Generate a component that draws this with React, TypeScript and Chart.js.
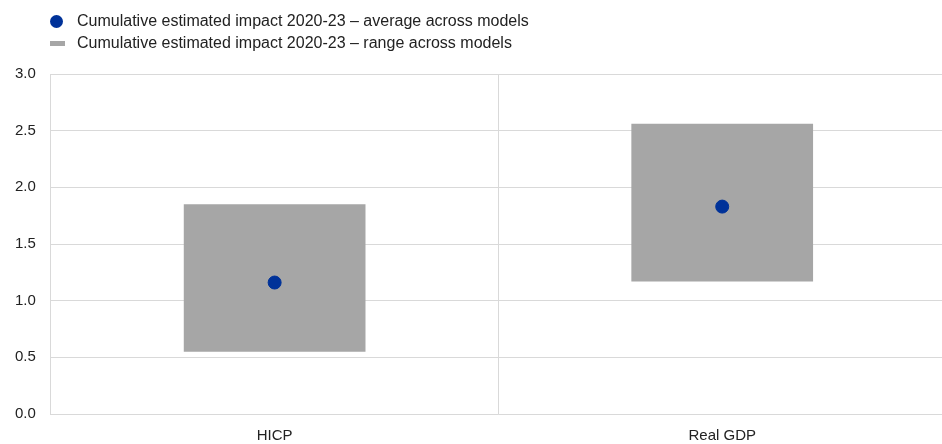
import React, { useEffect, useRef } from "react";
import { Chart, registerables } from "chart.js";

Chart.register(...registerables);

const categories = ["HICP", "Real GDP"];
const rangeLow = [0.55, 1.17];
const rangeHigh = [1.85, 2.56];
const averages = [1.16, 1.83];
const avgLabel = "Cumulative estimated impact 2020-23 \u2013 average across models";
const rangeLabel = "Cumulative estimated impact 2020-23 \u2013 range across models";

const BLUE = "#003299";
const GREY = "#a6a6a6";
const FONT = "'Liberation Sans', Arial, sans-serif";

export default function App() {
  const ref = useRef<HTMLCanvasElement>(null);
  useEffect(() => {
    if (!ref.current) return;
    const chart = new Chart(ref.current, {
      type: "bar",
      data: {
        labels: categories,
        datasets: [
          {
            type: "line",
            label: avgLabel,
            data: averages,
            showLine: false,
            pointRadius: 6.5,
            pointHoverRadius: 6.5,
            pointBackgroundColor: BLUE,
            pointBorderColor: BLUE,
            borderColor: BLUE,
            backgroundColor: BLUE,
            order: 0,
          } as any,
          {
            type: "bar",
            label: rangeLabel,
            data: rangeLow.map((v, i) => [v, rangeHigh[i]]),
            backgroundColor: GREY,
            borderWidth: 0,
            barPercentage: 0.406,
            categoryPercentage: 1,
            order: 1,
          } as any,
        ],
      },
      options: {
        animation: false,
        responsive: false,
        maintainAspectRatio: false,
        layout: { autoPadding: false, padding: { top: 74, left: 0, right: 0, bottom: 0 } },
        plugins: {
          legend: { display: false },
          tooltip: { enabled: false },
        },
        scales: {
          x: {
            offset: true,
            grid: { offset: true, color: "#d9d9d9", drawTicks: false },
            border: { color: "#d9d9d9" },
            ticks: { color: "#222", font: { family: FONT, size: 15 }, padding: 13 },
          },
          y: {
            min: 0,
            max: 3,
            ticks: {
              stepSize: 0.5,
              color: "#222",
              font: { family: FONT, size: 15 },
              padding: 15,
              callback: (v: any) => Number(v).toFixed(1),
            },
            grid: { color: "#d9d9d9", drawTicks: false },
            border: { color: "#d9d9d9" },
          },
        },
      },
    });
    return () => chart.destroy();
  }, []);

  return (
    <div style={{ position: "fixed", left: 0, top: 0, width: 942, height: 444, overflow: "hidden", fontFamily: FONT, background: "#fff" }}>
      <canvas ref={ref} width={946} height={458} style={{ position: "absolute", left: 0, top: 0, width: 946, height: 458, display: "block" }} />
      <div style={{ position: "absolute", left: 50, top: 10, fontSize: 16, color: "#222", lineHeight: "22px" }}>
        <div style={{ display: "flex", alignItems: "center" }}>
          <span style={{ display: "inline-block", width: 13, height: 13, borderRadius: 7, background: BLUE, marginRight: 14 }} />
          <span>{avgLabel}</span>
        </div>
        <div style={{ display: "flex", alignItems: "center" }}>
          <span style={{ display: "inline-block", width: 15, height: 5, background: GREY, marginRight: 12 }} />
          <span>{rangeLabel}</span>
        </div>
      </div>
    </div>
  );
}
